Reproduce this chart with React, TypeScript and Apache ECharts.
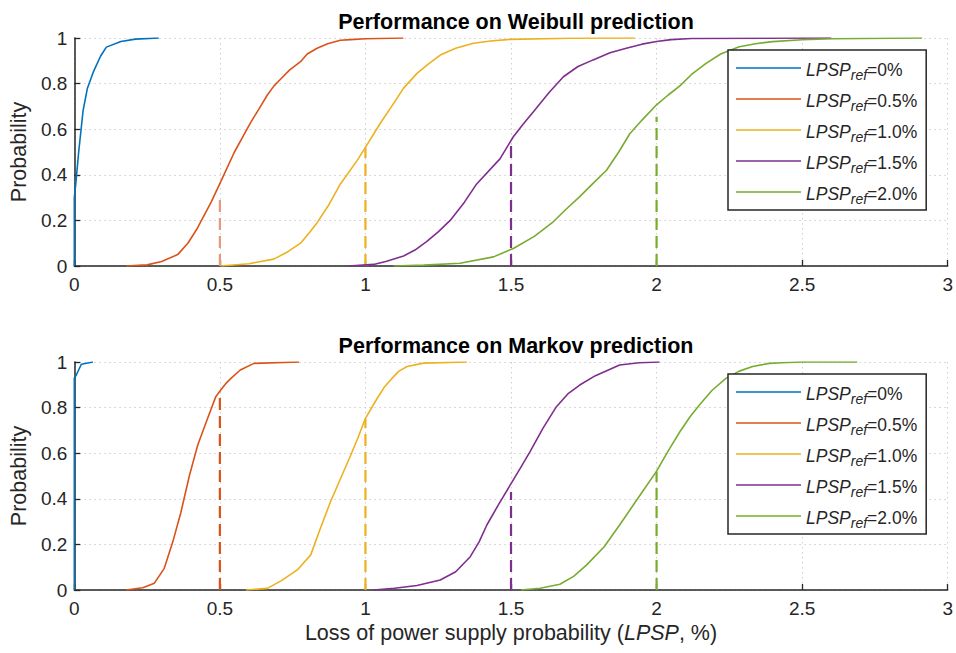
import React, { useEffect, useRef } from 'react';
import * as echarts from 'echarts';

type Pt = [number, number];

const refLabels = ['0%', '0.5%', '1.0%', '1.5%', '2.0%'];
const refValues = [0, 0.5, 1.0, 1.5, 2.0];
const colors = ['#0072BD', '#D95319', '#EDB120', '#7E2F8E', '#77AC30'];
const weibullDashColors = ['#0072BD', '#E8987A', '#EDB120', '#7E2F8E', '#77AC30'];
const titles = ['Performance on Weibull prediction', 'Performance on Markov prediction'];

const weibull0: Pt[] = [[0, 0], [0, 0.3], [0.005, 0.36], [0.015, 0.5], [0.03, 0.68], [0.045, 0.78], [0.065, 0.85], [0.09, 0.92], [0.11, 0.96], [0.16, 0.985], [0.21, 0.995], [0.29, 1]];
const weibull05: Pt[] = [[0.178, 0], [0.25, 0.005], [0.3, 0.02], [0.355, 0.05], [0.39, 0.1], [0.42, 0.16], [0.445, 0.22], [0.47, 0.28], [0.503, 0.37], [0.55, 0.5], [0.58, 0.57], [0.606, 0.63], [0.635, 0.69], [0.663, 0.75], [0.686, 0.79], [0.709, 0.82], [0.74, 0.86], [0.777, 0.896], [0.8, 0.93], [0.834, 0.955], [0.87, 0.975], [0.914, 0.99], [0.95, 0.993], [1.0, 0.997], [1.13, 1]];
const weibull10: Pt[] = [[0.503, 0], [0.6, 0.01], [0.685, 0.03], [0.73, 0.06], [0.777, 0.1], [0.81, 0.15], [0.834, 0.19], [0.875, 0.27], [0.914, 0.36], [0.97, 0.46], [1.0, 0.52], [1.051, 0.626], [1.09, 0.7], [1.131, 0.78], [1.177, 0.845], [1.22, 0.89], [1.257, 0.925], [1.31, 0.955], [1.371, 0.977], [1.43, 0.987], [1.497, 0.994], [1.7, 0.999], [1.925, 1]];
const weibull15: Pt[] = [[0.943, 0], [1.028, 0.007], [1.07, 0.02], [1.131, 0.044], [1.17, 0.07], [1.21, 0.107], [1.25, 0.15], [1.291, 0.2], [1.34, 0.28], [1.382, 0.36], [1.462, 0.47], [1.508, 0.567], [1.54, 0.62], [1.577, 0.677], [1.63, 0.76], [1.68, 0.83], [1.73, 0.875], [1.782, 0.904], [1.84, 0.935], [1.896, 0.955], [1.95, 0.973], [2.0, 0.985], [2.05, 0.993], [2.12, 0.998], [2.6, 1]];
const weibull20: Pt[] = [[1.097, 0], [1.2, 0.004], [1.325, 0.012], [1.44, 0.04], [1.508, 0.077], [1.58, 0.13], [1.645, 0.194], [1.69, 0.25], [1.736, 0.304], [1.78, 0.36], [1.828, 0.42], [1.87, 0.5], [1.908, 0.58], [1.95, 0.64], [1.999, 0.706], [2.04, 0.75], [2.08, 0.79], [2.12, 0.84], [2.17, 0.889], [2.22, 0.93], [2.284, 0.962], [2.34, 0.975], [2.398, 0.984], [2.5, 0.992], [2.603, 0.997], [2.912, 1]];

const markov0: Pt[] = [[0, 0], [0, 0.93], [0.007, 0.943], [0.024, 0.99], [0.064, 1]];
const markov05: Pt[] = [[0.178, 0], [0.235, 0.01], [0.275, 0.03], [0.309, 0.095], [0.338, 0.21], [0.366, 0.34], [0.395, 0.5], [0.424, 0.636], [0.458, 0.753], [0.486, 0.848], [0.503, 0.877], [0.52, 0.905], [0.538, 0.928], [0.57, 0.965], [0.617, 0.994], [0.772, 1]];
const markov10: Pt[] = [[0.589, 0], [0.663, 0.007], [0.71, 0.04], [0.766, 0.088], [0.812, 0.154], [0.845, 0.27], [0.88, 0.387], [0.915, 0.49], [0.949, 0.59], [0.975, 0.67], [1.0, 0.753], [1.04, 0.84], [1.065, 0.89], [1.091, 0.928], [1.115, 0.96], [1.143, 0.98], [1.2, 0.995], [1.348, 1]];
const markov15: Pt[] = [[1.028, 0], [1.1, 0.008], [1.177, 0.02], [1.257, 0.044], [1.31, 0.08], [1.36, 0.146], [1.39, 0.21], [1.417, 0.285], [1.455, 0.37], [1.497, 0.46], [1.53, 0.53], [1.565, 0.606], [1.61, 0.71], [1.656, 0.804], [1.695, 0.86], [1.736, 0.899], [1.79, 0.94], [1.873, 0.987], [1.94, 0.997], [2.01, 1]];
const markov20: Pt[] = [[1.534, 0], [1.6, 0.008], [1.668, 0.025], [1.715, 0.06], [1.76, 0.11], [1.82, 0.19], [1.873, 0.285], [1.94, 0.41], [1.999, 0.519], [2.04, 0.61], [2.08, 0.694], [2.115, 0.76], [2.147, 0.811], [2.19, 0.875], [2.238, 0.928], [2.284, 0.96], [2.33, 0.98], [2.387, 0.994], [2.43, 0.997], [2.5, 1], [2.689, 1]];

const weibullRefTop = [0, 0.31, 0.52, 0.55, 0.655];
const markovRefTop = [0, 0.87, 0.75, 0.43, 0.52];

const weibullCurves = [weibull0, weibull05, weibull10, weibull15, weibull20];
const markovCurves = [markov0, markov05, markov10, markov15, markov20];

const FONT = 'Liberation Sans, Arial, Helvetica, sans-serif';
const INK = '#262626';

export default function App() {
  const ref = useRef<HTMLDivElement>(null);
  useEffect(() => {
    document.body.style.margin = '0';
    const chart = echarts.init(ref.current!, undefined, { renderer: 'svg' });
    const names = refLabels.map((l) => `LPSPref=${l}`);
    const grids = [
      { left: 73, top: 38, width: 876, height: 228 },
      { left: 73, top: 362, width: 876, height: 228 },
    ];
    const mkX = (i: number) => ({
      type: 'value',
      gridIndex: i,
      min: 0,
      max: 3,
      interval: 0.5,
      axisLine: { show: true, onZero: false, lineStyle: { color: INK, width: 1.5 } },
      axisTick: { show: true, inside: true, length: 6, lineStyle: { color: INK, width: 1.3 } },
      axisLabel: { color: INK, fontSize: 19, fontFamily: FONT, margin: 9 },
      splitLine: { show: true, lineStyle: { color: '#cfcfcf', width: 1, type: [1.5, 3.5] } },
      name: i === 1 ? 'Loss of power supply probability ({i|LPSP}, %)' : '',
      nameLocation: 'middle',
      nameGap: 32,
      nameTextStyle: {
        color: INK,
        fontSize: 21.5,
        fontFamily: FONT,
        rich: { i: { fontStyle: 'italic', fontSize: 21.5, color: INK, fontFamily: FONT } },
      },
    });
    const mkY = (i: number) => ({
      type: 'value',
      gridIndex: i,
      min: 0,
      max: 1,
      interval: 0.2,
      axisLine: { show: true, lineStyle: { color: INK, width: 1.5 } },
      axisTick: { show: true, inside: true, length: 6, lineStyle: { color: INK, width: 1.3 } },
      axisLabel: { color: INK, fontSize: 19, fontFamily: FONT, margin: 7 },
      splitLine: { show: true, lineStyle: { color: '#cfcfcf', width: 1, type: [1.5, 3.5] } },
      name: 'Probability',
      nameLocation: 'middle',
      nameGap: 41,
      nameTextStyle: { color: INK, fontSize: 21.5, fontFamily: FONT },
    });
    const series: any[] = [];
    [weibullCurves, markovCurves].forEach((curves, gi) => {
      curves.forEach((d, k) => {
        series.push({
          type: 'line',
          name: names[k],
          xAxisIndex: gi,
          yAxisIndex: gi,
          data: d,
          symbol: 'none',
          lineStyle: { color: colors[k], width: 1.6 },
          itemStyle: { color: colors[k] },
          z: 3,
        });
      });
      const tops = gi === 0 ? weibullRefTop : markovRefTop;
      refValues.forEach((rv, k) => {
        if (k === 0) return;
        series.push({
          type: 'line',
          name: `ref-${gi}-${k}`,
          xAxisIndex: gi,
          yAxisIndex: gi,
          data: [[rv, 0], [rv, tops[k]]],
          symbol: 'none',
          lineStyle: { color: gi === 0 ? weibullDashColors[k] : colors[k], width: 2.2, type: [12, 6] },
          z: 2,
        });
      });
    });
    const mkLegend = (top: number) => ({
      orient: 'vertical',
      left: 728,
      top,
      data: names,
      icon: 'rect',
      itemWidth: 65,
      itemHeight: 1.6,
      itemGap: 3,
      padding: [4, 9, 4, 8],
      borderColor: INK,
      borderWidth: 1.5,
      borderRadius: 0,
      backgroundColor: '#ffffff',
      selectedMode: false,
      formatter: (n: string) => `{i|LPSP}{s|ref}{n|=${n.split('=')[1]}}`,
      textStyle: {
        color: INK,
        fontFamily: FONT,
        fontSize: 17,
        rich: {
          i: { fontStyle: 'italic', fontSize: 17.5, color: INK, fontFamily: FONT, verticalAlign: 'top', padding: [2, 0, 0, 0], lineHeight: 18 },
          s: { fontStyle: 'italic', fontSize: 14, color: INK, fontFamily: FONT, padding: [14, 0, 0, 0], lineHeight: 14 },
          n: { fontSize: 17.5, color: INK, fontFamily: FONT, verticalAlign: 'top', padding: [2, 0, 0, 0], lineHeight: 18 },
        },
      },
    });
    chart.setOption({
      animation: false,
      backgroundColor: '#ffffff',
      title: titles.map((t, i) => ({
        text: t,
        left: 511,
        top: i === 0 ? 6 : 330,
        textAlign: 'center',
        textStyle: { fontFamily: FONT, fontWeight: 'bold', fontSize: 21.5, color: '#000' },
      })),
      grid: grids,
      xAxis: [mkX(0), mkX(1)],
      yAxis: [mkY(0), mkY(1)],
      legend: [mkLegend(50), mkLegend(374)],
      series,
    });
    return () => chart.dispose();
  }, []);
  return <div ref={ref} style={{ width: 956, height: 653 }} />;
}
